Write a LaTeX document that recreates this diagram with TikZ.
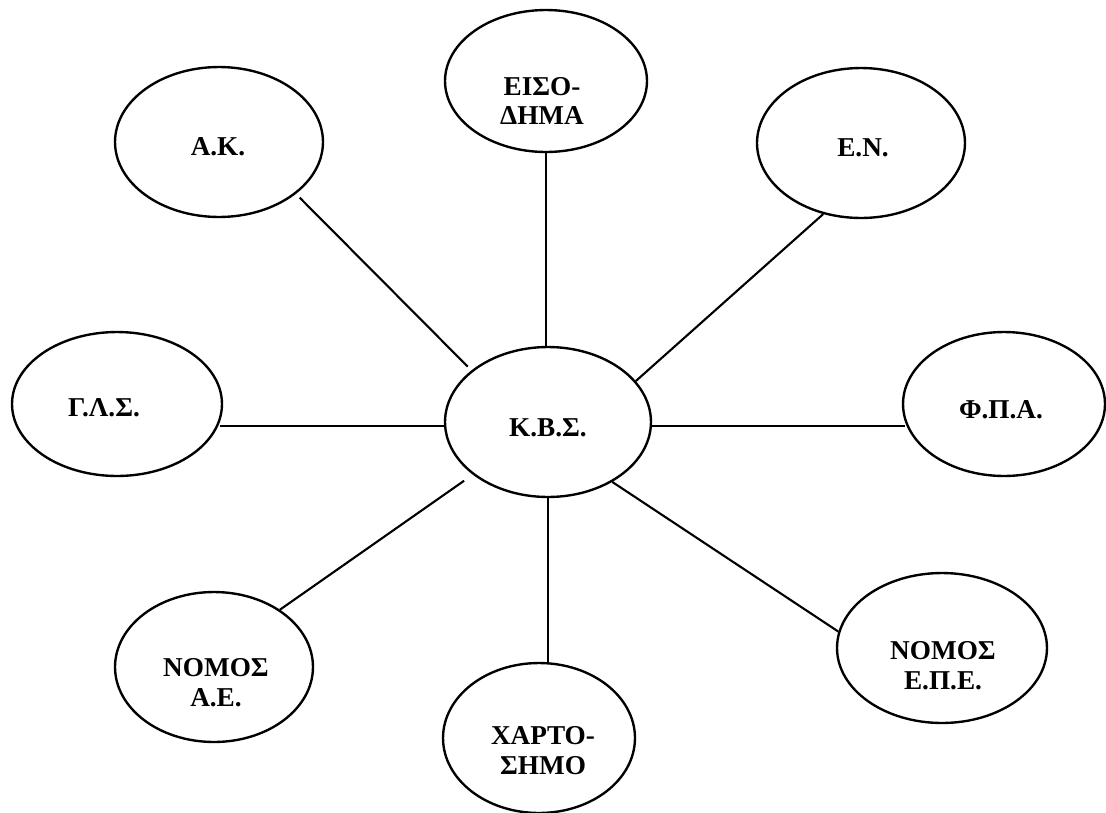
\documentclass[tikz,border=0pt]{standalone}
\usepackage{fontspec}
\setmainfont{Liberation Serif}
\usepackage{tikz}
\usetikzlibrary{shapes.geometric}
\tikzset{
  oval/.style={ellipse, draw=black, line width=1.35pt, fill=white, minimum width=4.12cm, minimum height=3cm, inner sep=0pt},
  lbl/.style={font=\fontsize{15.5}{17}\selectfont\bfseries, align=center, inner sep=0pt},
  ln/.style={draw=black, line width=1.2pt}
}

\begin{document}
\begin{tikzpicture}[x=0.02cm, y=-0.02cm]
  \useasboundingbox (0,0) rectangle (1106,812);

  % Center
  \node[oval] (kbs) at (548,422) {};
  \node[lbl] (kbst) at (548,428) {Κ.Β.Σ.};

  % Top row
  \node[oval, minimum width=4.04cm, minimum height=2.84cm] (eis) at (546,81) {};
  \node[lbl] (eist) at (542,101) {ΕΙΣΟ-\\ΔΗΜΑ};
  \node[oval, minimum width=4.16cm] (ak) at (219,142) {};
  \node[lbl] (akt) at (218,147) {Α.Κ.};
  \node[oval, minimum width=4.16cm] (en) at (861,143) {};
  \node[lbl] (ent) at (863,148) {Ε.Ν.};

  % Middle row
  \node[oval, minimum width=4.2cm, minimum height=2.88cm] (glas) at (117,404) {};
  \node[lbl] (glast) at (104,408) {Γ.Λ.Σ.};
  \node[oval, minimum width=4.04cm, minimum height=2.88cm] (fpa) at (1004,404) {};
  \node[lbl] (fpat) at (1001,410) {Φ.Π.Α.};

  % Bottom row
  \node[oval, minimum width=3.96cm] (nae) at (214,667) {};
  \node[lbl] (naet) at (216,683) {ΝΟΜΟΣ\\Α.Ε.};
  \node[oval, minimum width=4.2cm] (nepe) at (942,648) {};
  \node[lbl] (nepet) at (943,666) {ΝΟΜΟΣ\\Ε.Π.Ε.};
  \node[oval, minimum width=3.84cm] (xart) at (539,738) {};
  \node[lbl] (xartt) at (543,751) {ΧΑΡΤΟ-\\ΣΗΜΟ};

  % Spokes
  \draw[ln, shorten <=3pt, shorten >=3pt] (ak.-34) -- (kbs.146);
  \draw[ln] (eis.south) -- (eis.south |- kbs.north);
  \draw[ln] (en.242) -- (kbs.25);
  \draw[ln, shorten >=-2pt] (kbs.182) -- (kbs.182 -| glas.east);
  \draw[ln, shorten >=-2pt] (kbs.-2) -- (kbs.-2 -| fpa.west);
  \draw[ln, shorten >=6pt] (nae.41) -- (kbs.215);
  \draw[ln] (kbs.-43) -- (nepe.171);
  \draw[ln] (kbs.south) -- (kbs.south |- xart.north);
\end{tikzpicture}
\end{document}
